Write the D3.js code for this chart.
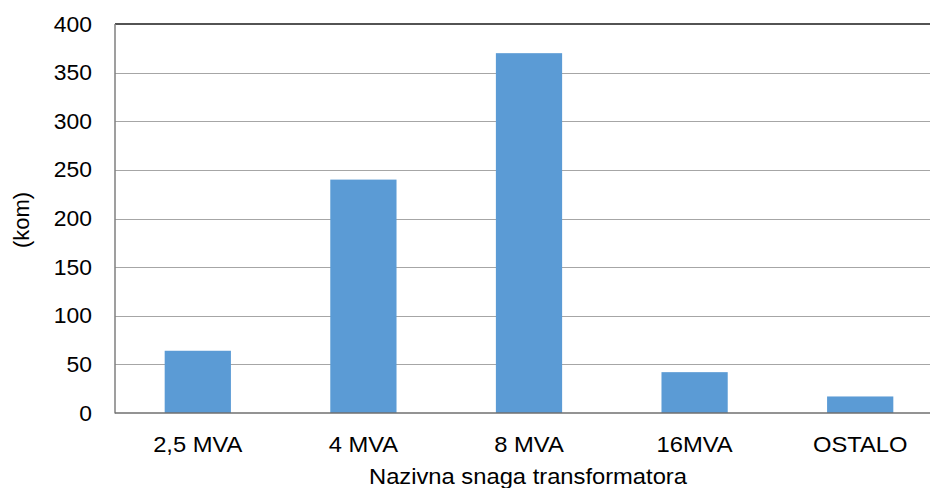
<!DOCTYPE html>
<html><head><meta charset="utf-8">
<script src="https://cdn.jsdelivr.net/npm/d3@7"></script>
<style>body{margin:0;background:#fff}svg{display:block}text{font-family:"Liberation Sans",Arial,sans-serif;fill:#000}</style>
</head><body>
<script>
const categories = ["2,5 MVA","4 MVA","8 MVA","16MVA","OSTALO"];
const values = [64, 240, 370, 42, 17];
const yTicks = [0,50,100,150,200,250,300,350,400];
const yLabel = "(kom)";
const xLabel = "Nazivna snaga transformatora";

const W=930,H=488;
const svg=d3.select("body").append("svg").attr("width",W).attr("height",H);
const mLeft=115,mRight=943,mTop=24,mBottom=413;
const x=d3.scaleBand().domain(categories).range([mLeft,mRight]).paddingInner(0.6).paddingOuter(0.3);
const y=d3.scaleLinear().domain([0,400]).range([mBottom,mTop]);

// gridlines
svg.append("g").selectAll("line").data(yTicks.filter(d=>d>0&&d<400)).join("line")
 .attr("x1",mLeft).attr("x2",W).attr("y1",d=>Math.round(y(d))+0.5).attr("y2",d=>Math.round(y(d))+0.5)
 .attr("stroke","#a6a6a6").attr("stroke-width",1.2);
// top line
svg.append("line").attr("x1",mLeft).attr("x2",W).attr("y1",y(400)).attr("y2",y(400))
 .attr("stroke","#1a1a1a").attr("stroke-width",1.6);

// bars
svg.append("g").selectAll("rect").data(values).join("rect")
 .attr("x",(d,i)=>x(categories[i])).attr("width",x.bandwidth())
 .attr("y",d=>y(d)).attr("height",d=>y(0)-y(d)).attr("fill","#5B9BD5");

// axes lines
svg.append("line").attr("x1",mLeft).attr("x2",mLeft).attr("y1",mTop).attr("y2",mBottom+0.5)
 .attr("stroke","#7f7f7f").attr("stroke-width",1.5);
svg.append("line").attr("x1",mLeft).attr("x2",W).attr("y1",mBottom).attr("y2",mBottom)
 .attr("stroke","#6f6f6f").attr("stroke-width",1.6);

// y tick labels
const ys=1.04;
const yAxis=d3.axisLeft(y).tickValues(yTicks).tickSize(0).tickPadding(23/ys);
const ga=svg.append("g").attr("transform",`translate(${mLeft},0)`).call(yAxis);
ga.select(".domain").remove();
ga.selectAll("text").style("font-size","22px").attr("fill","#000").attr("font-family",null)
  .attr("transform",`scale(${ys},1)`);

// x tick labels
const xs=1.08;
const xAxis=d3.axisBottom(x).tickSize(0).tickPadding(23);
const gx=svg.append("g").attr("transform",`translate(0,${mBottom})`).call(xAxis);
gx.select(".domain").remove();
gx.selectAll("text").style("font-size","22px").attr("fill","#000").attr("font-family",null)
  .attr("transform",`scale(${xs},1)`);

svg.append("text").attr("transform",`translate(528,484) scale(${xs},1)`).attr("text-anchor","middle").style("font-size","22px").text(xLabel);
svg.append("text").attr("transform","translate(29,220) rotate(-90)").attr("text-anchor","middle").style("font-size","22px").text(yLabel);
</script>
</body></html>
